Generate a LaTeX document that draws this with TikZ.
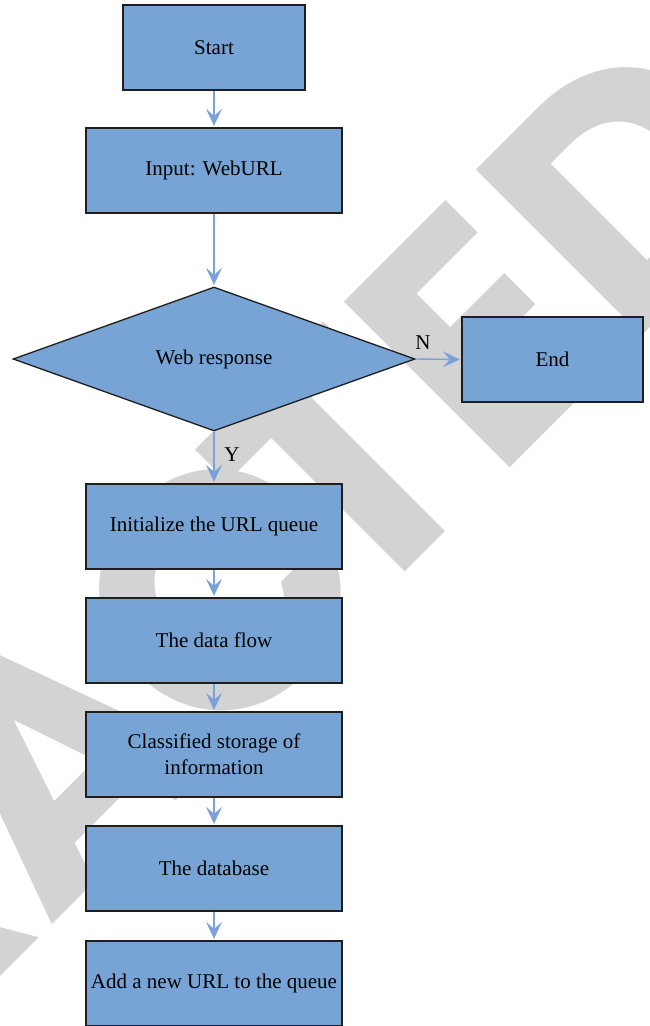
\documentclass[tikz,border=0pt]{standalone}
\usepackage{fontspec}
\setmainfont{Liberation Serif}
\newfontfamily\stampfont{Poppins}
\usetikzlibrary{shapes.geometric,arrows.meta}

\definecolor{boxfill}{RGB}{119,164,212}
\definecolor{flowline}{RGB}{124,161,218}
\definecolor{stampgray}{RGB}{211,211,211}
\definecolor{edgeline}{RGB}{30,30,30}

% stamp lettering, with its spacing tightened by hand
\newcommand\stampfontsize{\stampfont\bfseries\fontsize{334}{334}\selectfont}
\newcommand\stamplead{RETRA\kern-15pt C\kern-52pt T}
\newlength\stampleadlen
\settowidth\stampleadlen{\stampfontsize\stamplead}
\pgfmathsetmacro\stampdiag{0.7071*\stampleadlen}

\begin{document}
\begin{tikzpicture}[x=1pt,y=-1pt,
  proc/.style={draw=edgeline, line width=1.3pt, fill=boxfill, minimum height=85pt,
    inner sep=0pt, align=center, font=\fontsize{21}{26}\selectfont},
  decision/.style={draw=edgeline, line width=1.3pt, fill=boxfill, diamond,
    minimum width=402pt, minimum height=144pt, inner sep=0pt, aspect=2.79,
    font=\fontsize{21}{26}\selectfont},
  flow/.style={draw=flowline, line width=1.4pt,
    -{Stealth[length=17pt,width=16pt,inset=7pt]}, shorten >=1.5pt},
  tag/.style={font=\fontsize{21}{26}\selectfont, inner sep=0pt}]

\useasboundingbox (0,0) rectangle (650,1026);
\clip (0,0) rectangle (650,1026);

% stamp word behind the chart, running up at 45 degrees
\node[rotate=45, anchor=base west, text=stampgray, inner sep=0pt,
  font=\stampfontsize] (stampword)
  at ({495-\stampdiag},{482.5+\stampdiag}) {\stamplead E\kern6pt D};

% process boxes
\node[proc, minimum width=182pt] (start) at (214,47.5) {Start};
\node[proc, minimum width=256pt] (input) at (214,170.5) {Input: WebURL};
\node[decision] (resp) at (214,359) {Web response};
\node[proc, minimum width=181pt] (end) at (552.5,359.5) {End};
\node[proc, minimum width=256pt] (init) at (214,526.5) {Initialize the URL queue};
\node[proc, minimum width=256pt] (dflow) at (214,640.5) {The data flow};
\node[proc, minimum width=256pt] (store) at (214,754.5) {Classified storage of\\information};
\node[proc, minimum width=256pt] (dbase) at (214,868.5) {The database};
\node[proc, minimum width=256pt] (addurl) at (214,983.5) {Add a new URL to the queue};

% connectors
\draw[flow] (start) -- (input);
\draw[flow] (input) -- (resp);
\draw[flow] (resp.east) -- (end.west);
\draw[flow] (resp.south) -- (init);
\draw[flow] (init) -- (dflow);
\draw[flow] (dflow) -- (store);
\draw[flow] (store) -- (dbase);
\draw[flow] (dbase) -- (addurl);

% branch labels
\node[tag] (nlabel) at (423,343) {N};
\node[tag] (ylabel) at (232,455) {Y};
\end{tikzpicture}
\end{document}
